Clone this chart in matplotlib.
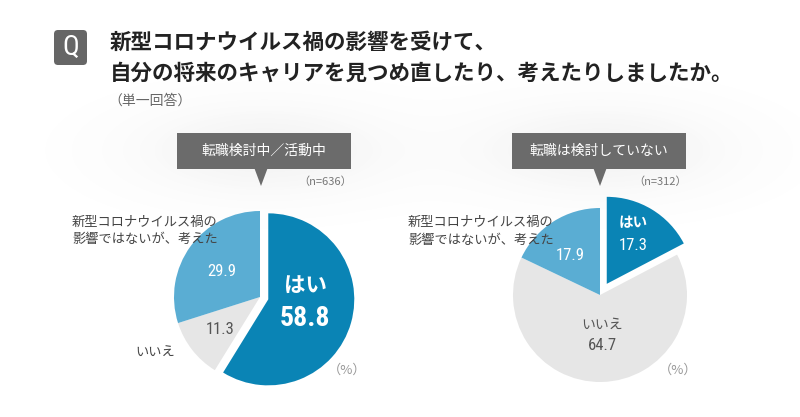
import matplotlib
matplotlib.use("Agg")
import matplotlib.pyplot as plt
import numpy as np
from matplotlib import font_manager
from matplotlib.patches import FancyBboxPatch, Rectangle, Polygon

# ---- data ----
title_lines = ["新型コロナウイルス禍の影響を受けて、",
               "自分の将来のキャリアを見つめ直したり、考えたりしましたか。"]
note = "（単一回答）"
groups = ["転職検討中／活動中", "転職は検討していない"]
sample_sizes = [636, 312]
categories = ["はい", "いいえ", "新型コロナウイルス禍の\n影響ではないが、考えた"]
values_active = [58.8, 11.3, 29.9]
values_not = [17.3, 64.7, 17.9]

W, H = 800, 417
colors = ['#0a84b5', '#e6e6e6', '#5aadd3']

plt.rcParams['font.family'] = ['Noto Sans CJK JP', 'DejaVu Sans']

# narrow face for the numbers, if one is installed
names = {f.name for f in font_manager.fontManager.ttflist}
NUM = dict(family='DejaVu Sans', stretch='condensed')
for cand in ['Roboto Condensed', 'Liberation Sans Narrow']:
    if cand in names:
        NUM = dict(family=cand)
        break


def px(x, y):
    return x / W, 1 - y / H


def label(x, y, s, **kw):
    kw.setdefault('ha', 'center')
    kw.setdefault('va', 'center')
    fig.text(*px(x, y), s, **kw)


fig = plt.figure(figsize=(W / 100, H / 100), dpi=100, facecolor='white')
bg = fig.add_axes([0, 0, 1, 1])
bg.axis('off')

# soft glow behind the callouts
yy, xx = np.mgrid[0:H, 0:W]
glow = np.zeros((H, W))
for cx in [264, 600]:
    glow += 0.085 * np.exp(-(((xx - cx) / 125.0) ** 2 + ((yy - 150) / 45.0) ** 2))
rgba = np.zeros((H, W, 4))
rgba[..., :3] = 0.45
rgba[..., 3] = np.clip(glow, 0, 1)
bg.imshow(rgba, extent=[0, W, H, 0], aspect='auto', zorder=0)
bg.set_xlim(0, W)
bg.set_ylim(H, 0)

# Q badge
bg.add_patch(FancyBboxPatch((54, 30), 33, 35, boxstyle="round,pad=0,rounding_size=4",
                            fc='#666666', ec='none', zorder=2))
label(70.5, 47.5, "Q", color='white', fontsize=20, **NUM)

# title
label(110, 42, title_lines[0], ha='left', fontsize=15.5, weight='bold', color='#222222')
label(110, 73, title_lines[1], ha='left', fontsize=15.5, weight='bold', color='#222222')
label(108, 101, note, ha='left', fontsize=10, color='#666666')

# callouts
for (x0, tip), g, n in zip([(177, 261), (512, 600)], groups, sample_sizes):
    bg.add_patch(Rectangle((x0, 133), 174, 36, fc='#6b6b6b', ec='none', zorder=2))
    bg.add_patch(Polygon([(tip - 6.5, 168.5), (tip + 6.5, 168.5), (tip, 186)],
                         closed=True, fc='#6b6b6b', ec='none', zorder=2))
    label(x0 + 87, 151, g, color='white', fontsize=10)
    label(x0 + 175, 182, f"（n={n}）", ha='right', fontsize=8, color='#777777')


def draw_pie(cx, cy, r, values, explode):
    lim = 1.35
    size = 2 * lim * r
    a = fig.add_axes([(cx - size / 2) / W, (H - cy - size / 2) / H, size / W, size / H])
    a.pie(values, colors=colors, startangle=90, counterclock=False,
          explode=[explode, 0, 0], radius=1, wedgeprops=dict(linewidth=0))
    a.set_xlim(-lim, lim)
    a.set_ylim(-lim, lim)
    a.set_aspect('equal')
    a.axis('off')


draw_pie(260, 297, 86, values_active, 0.1)
draw_pie(600, 295, 87, values_not, 0.15)

other = categories[2].split("\n")

# left pie labels
label(72, 222, other[0], ha='left', fontsize=9.5, color='#444444')
label(72, 239, other[1], ha='left', fontsize=9.5, color='#444444')
label(222, 272, f"{values_active[2]:.1f}", color='white', fontsize=12, **NUM)
label(305, 285, categories[0], color='white', fontsize=15.5, weight='bold')
label(305, 318, f"{values_active[0]:.1f}", color='white', fontsize=20, weight='bold', **NUM)
label(220, 330, f"{values_active[1]:.1f}", color='#555555', fontsize=12, **NUM)
label(155, 352, categories[1], fontsize=9.5, color='#444444')
label(347, 370, "（%）", fontsize=9.5, color='#999999')

# right pie labels
label(408, 222, other[0], ha='left', fontsize=9.5, color='#444444')
label(408, 240, other[1], ha='left', fontsize=9.5, color='#444444')
label(570, 255, f"{values_not[2]:.1f}", color='white', fontsize=12, **NUM)
label(633, 222, categories[0], color='white', fontsize=10.5, weight='bold')
label(633, 245, f"{values_not[0]:.1f}", color='white', fontsize=12, **NUM)
label(602, 325, categories[1], fontsize=10, color='#555555')
label(602, 345, f"{values_not[1]:.1f}", color='#555555', fontsize=12, **NUM)
label(678, 370, "（%）", fontsize=9.5, color='#999999')

fig.savefig("out.png", dpi=100, facecolor='white')
